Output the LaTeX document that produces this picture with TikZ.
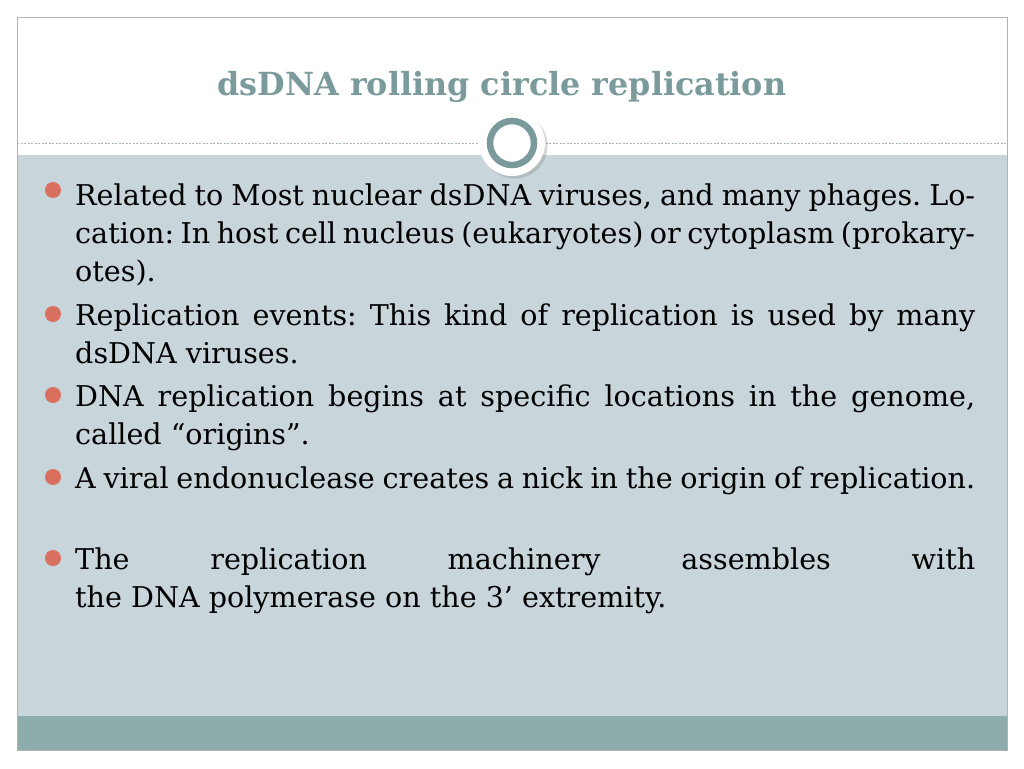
\documentclass[tikz,border=0pt]{standalone}
\usepackage{fontspec}
\setmainfont{DejaVu Serif}
\usetikzlibrary{shadows}
\definecolor{slate}{HTML}{7A9A9B}
\definecolor{bodyblue}{HTML}{C8D5DA}
\definecolor{band}{HTML}{8EACAB}
\definecolor{dot}{HTML}{D9705F}
\newcommand{\nohyph}{\hyphenpenalty=10000\relax\exhyphenpenalty=10000\relax\frenchspacing}
\begin{document}
\begin{tikzpicture}[x=1pt,y=-1pt,
    item/.style={anchor=base west, text width=900pt, align=justify, inner sep=0pt,
      font=\fontsize{28.6}{38}\selectfont},
    bullet/.style={circle, fill=dot, minimum size=16pt, inner sep=0pt}
]
    \useasboundingbox (0,0) rectangle (1024,768);
    % slide panels
    \fill[white] (0,0) rectangle (1024,768);
    \fill[bodyblue] (17,155) rectangle (1007,716);
    \fill[band] (17,716) rectangle (1007,750);
    \draw[gray!60] (17,17) rectangle (1007,750);
    \draw[slate!70, dashed, dash pattern=on 2pt off 1.5pt] (17,143) -- (1007,143);

    % title
    \node[font=\fontsize{31.8}{38}\selectfont\bfseries, text=slate] (title) at (502,87) {dsDNA rolling circle replication};

    % ornament
    \node[circle, fill=white, minimum size=66pt, drop shadow={opacity=0.3}] (ring) at (512,143) {};
    \node[circle, draw=slate, line width=6.5pt, fill=white, minimum size=44pt] (inner) at (ring) {};

    % bullets
    \node[item] (b1) at (75,205) {\nohyph Related to Most nuclear dsDNA viruses, and many phages. Location: In host cell nucleus (eukaryotes) or cytoplasm (prokaryotes).};
    \node[item] (b2) at (75,325) {\nohyph Replication events: This kind of replication is used by many dsDNA viruses.};
    \node[item] (b3) at (75,406) {\nohyph DNA replication begins at specific locations in the genome, called “origins”.};
    \node[item] (b4) at (75,488) {\nohyph A viral endonuclease creates a nick in the origin of replication.};
    \node[item] (b5) at (75,569) {\nohyph The replication machinery assembles with\linebreak the DNA polymerase on the 3’ extremity.};
    \foreach \b/\y in {b1/190, b2/314, b3/395, b4/477, b5/558}
        \node[bullet] (dot-\b) at (53,\y) {};
\end{tikzpicture}
\end{document}
